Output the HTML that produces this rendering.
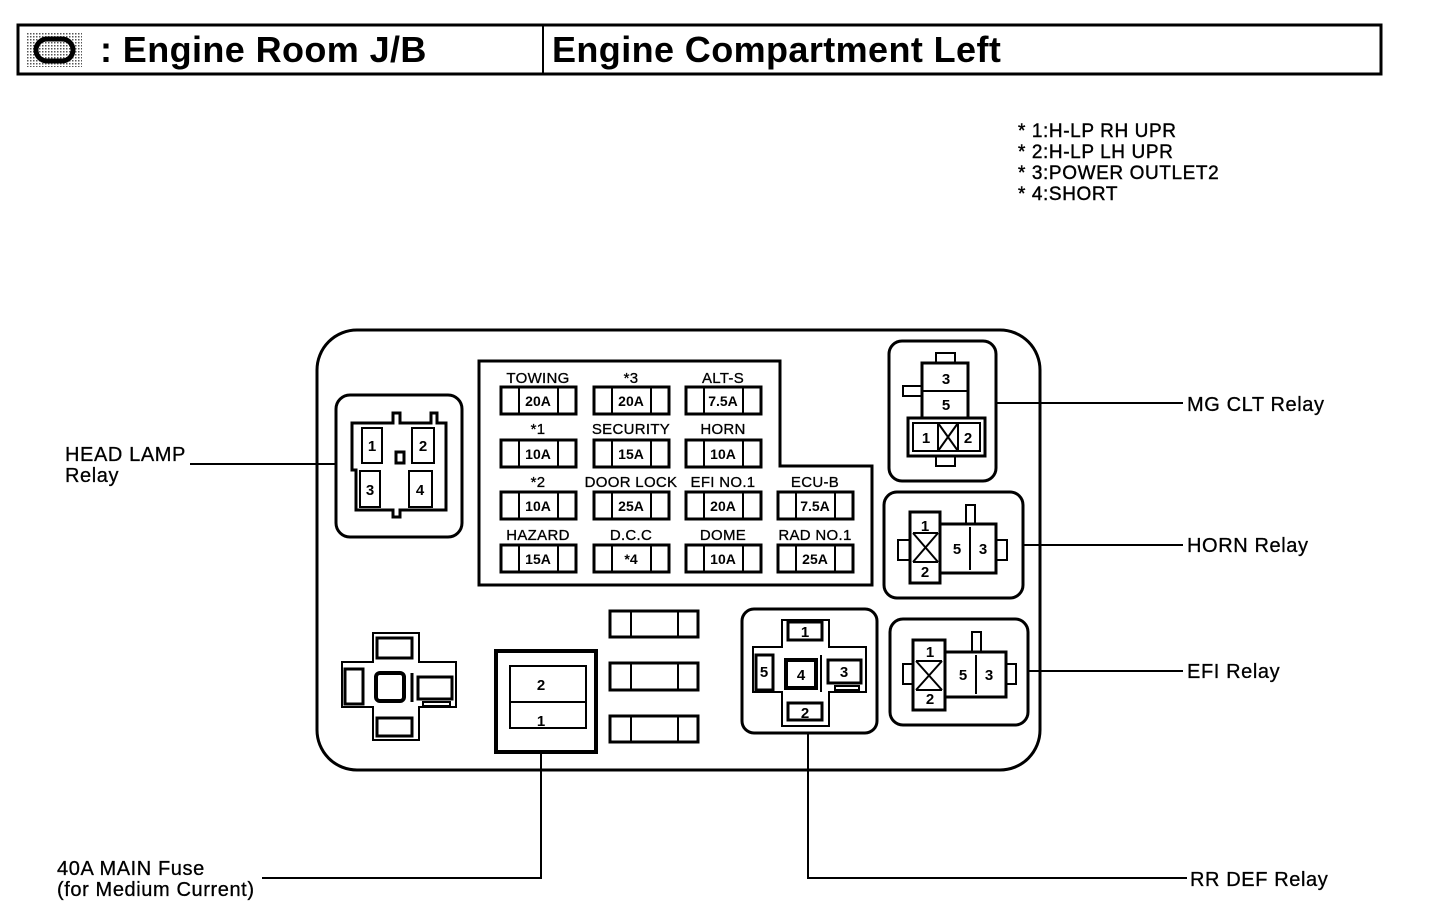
<!DOCTYPE html>
<html><head><meta charset="utf-8"><style>
body{margin:0;background:#fff;}
svg{display:block;font-family:"Liberation Sans",Arial,sans-serif;}
</style></head><body>
<svg width="1440" height="924" viewBox="0 0 1440 924" xmlns="http://www.w3.org/2000/svg">
<defs>
<pattern id="dots" width="3" height="3" patternUnits="userSpaceOnUse"><rect width="3" height="3" fill="#fff"/><rect width="1.5" height="1.5" fill="#555"/></pattern>
</defs>
<rect x="18" y="25" width="1363" height="49" fill="none" stroke="#000" stroke-width="3"/>
<line x1="543" y1="25" x2="543" y2="74" stroke="#000" stroke-width="2"/>
<rect x="27" y="32" width="55" height="35" fill="url(#dots)"/>
<rect x="36" y="39" width="37" height="22" rx="11" fill="none" stroke="#000" stroke-width="5"/>
<text x="100" y="62" font-size="36" font-weight="bold" letter-spacing="0.4">: Engine Room J/B</text>
<text x="552" y="62" font-size="36" font-weight="bold" letter-spacing="0.4">Engine Compartment Left</text>
<g font-size="19" letter-spacing="0.6" stroke="#000" stroke-width="0.4">
<text x="1018" y="137">* 1:H-LP RH UPR</text>
<text x="1018" y="158">* 2:H-LP LH UPR</text>
<text x="1018" y="179">* 3:POWER OUTLET2</text>
<text x="1018" y="200">* 4:SHORT</text>
</g>
<g fill="none" stroke="#000" stroke-width="3">
<rect x="317" y="330" width="723" height="440" rx="40"/>
<polygon points="479,361 780,361 780,466 872,466 872,585 479,585"/>
</g>
<g stroke="#000" stroke-width="3" fill="#fff">
<rect x="501" y="387" width="75" height="27"/><rect x="594" y="387" width="75" height="27"/><rect x="686" y="387" width="75" height="27"/>
<rect x="501" y="440" width="75" height="27"/><rect x="594" y="440" width="75" height="27"/><rect x="686" y="440" width="75" height="27"/>
<rect x="501" y="492" width="75" height="27"/><rect x="594" y="492" width="75" height="27"/><rect x="686" y="492" width="75" height="27"/><rect x="778" y="492" width="75" height="27"/>
<rect x="501" y="545" width="75" height="27"/><rect x="594" y="545" width="75" height="27"/><rect x="686" y="545" width="75" height="27"/><rect x="778" y="545" width="75" height="27"/>
</g>
<g stroke="#000" stroke-width="2">
<path d="M519 387v27M558 387v27M612 387v27M651 387v27M704 387v27M743 387v27
M519 440v27M558 440v27M612 440v27M651 440v27M704 440v27M743 440v27
M519 492v27M558 492v27M612 492v27M651 492v27M704 492v27M743 492v27M796 492v27M835 492v27
M519 545v27M558 545v27M612 545v27M651 545v27M704 545v27M743 545v27M796 545v27M835 545v27"/>
</g>
<g font-size="15" text-anchor="middle" letter-spacing="0.3" stroke="#000" stroke-width="0.3">
<text x="538" y="383">TOWING</text><text x="631" y="383">*3</text><text x="723" y="383">ALT-S</text>
<text x="538" y="434">*1</text><text x="631" y="434">SECURITY</text><text x="723" y="434">HORN</text>
<text x="538" y="487">*2</text><text x="631" y="487">DOOR LOCK</text><text x="723" y="487">EFI NO.1</text><text x="815" y="487">ECU-B</text>
<text x="538" y="540">HAZARD</text><text x="631" y="540">D.C.C</text><text x="723" y="540">DOME</text><text x="815" y="540">RAD NO.1</text>
</g>
<g font-size="14" text-anchor="middle" font-weight="bold">
<text x="538" y="406">20A</text><text x="631" y="406">20A</text><text x="723" y="406">7.5A</text>
<text x="538" y="459">10A</text><text x="631" y="459">15A</text><text x="723" y="459">10A</text>
<text x="538" y="511">10A</text><text x="631" y="511">25A</text><text x="723" y="511">20A</text><text x="815" y="511">7.5A</text>
<text x="538" y="564">15A</text><text x="631" y="564">*4</text><text x="723" y="564">10A</text><text x="815" y="564">25A</text>
</g>
<g fill="none" stroke="#000" stroke-width="3">
<rect x="336" y="395" width="126" height="142" rx="14"/>
<polygon points="352,423 393,423 393,413 400,413 400,423 431,423 431,413 437,413 437,423 446,423 446,510 400,510 400,517 393,517 393,510 356,510 356,470 352,470"/>
</g>
<g fill="none" stroke="#000" stroke-width="2">
<rect x="362" y="428" width="20" height="35"/><rect x="412" y="428" width="22" height="35"/>
<rect x="360" y="471" width="20" height="36"/><rect x="409" y="471" width="23" height="36"/>
<rect x="396" y="452" width="8" height="11" stroke-width="3"/>
</g>
<g font-size="15" text-anchor="middle" font-weight="bold"><text x="372" y="451">1</text><text x="423" y="451">2</text><text x="370" y="495">3</text><text x="420" y="495">4</text></g>
<g fill="none" stroke="#000" stroke-width="2">
<polygon points="373,633 419,633 419,662 456,662 456,707 419,707 419,740 373,740 373,707 342,707 342,662 373,662"/>
<rect x="377" y="638" width="35" height="20" stroke-width="3"/>
<rect x="377" y="718" width="35" height="18" stroke-width="3"/>
<rect x="345" y="669" width="18" height="35" stroke-width="3"/>
<rect x="376" y="673" width="28" height="28" rx="4" stroke-width="4"/>
<rect x="418" y="677" width="34" height="22" stroke-width="3"/>
<rect x="423" y="702" width="27" height="4"/>
<line x1="412" y1="673" x2="412" y2="702" stroke-width="3"/>
</g>
<g fill="none" stroke="#000">
<rect x="496" y="651" width="100" height="101" stroke-width="4"/>
<rect x="510" y="666" width="76" height="62" stroke-width="2"/>
<line x1="510" y1="702" x2="586" y2="702" stroke-width="2"/>
</g>
<g font-size="15" text-anchor="middle" font-weight="bold"><text x="541" y="690">2</text><text x="541" y="726">1</text></g>
<g fill="none" stroke="#000" stroke-width="3">
<rect x="610" y="611" width="88" height="26"/><rect x="610" y="663" width="88" height="27"/><rect x="610" y="716" width="88" height="26"/>
</g>
<g stroke="#000" stroke-width="2"><path d="M631 611v26M678 611v26M631 663v27M678 663v27M631 716v26M678 716v26"/></g>
<g fill="none" stroke="#000" stroke-width="3">
<rect x="742" y="609" width="135" height="124" rx="12"/>
<polygon points="782,620 829,620 829,647 866,647 866,692 829,692 829,726 782,726 782,692 753,692 753,647 782,647" stroke-width="2"/>
<rect x="788" y="622" width="34" height="18"/><rect x="788" y="703" width="34" height="17"/>
<rect x="756" y="655" width="17" height="35"/>
<rect x="786" y="660" width="30" height="28" stroke-width="4"/>
<rect x="828" y="660" width="33" height="23"/>
<rect x="835" y="686" width="24" height="4" stroke-width="2"/>
<line x1="821" y1="655" x2="821" y2="692" stroke-width="2"/>
</g>
<g font-size="15" text-anchor="middle" font-weight="bold"><text x="805" y="637">1</text><text x="805" y="718">2</text><text x="764" y="677">5</text><text x="801" y="680">4</text><text x="844" y="677">3</text></g>
<g fill="none" stroke="#000" stroke-width="3">
<rect x="889" y="341" width="107" height="140" rx="13"/>
<rect x="922" y="363" width="46" height="55"/>
<line x1="922" y1="391" x2="968" y2="391" stroke-width="2"/>
<rect x="936" y="353" width="19" height="10" stroke-width="2"/>
<rect x="903" y="386" width="19" height="10" stroke-width="2"/>
<rect x="908" y="418" width="77" height="38"/>
<rect x="913" y="423" width="67" height="28" stroke-width="2"/>
<path d="M938 423v28M958 423v28M938 423l20 28M958 423l-20 28" stroke-width="2"/>
<rect x="936" y="456" width="19" height="10" stroke-width="2"/>
</g>
<g font-size="15" text-anchor="middle" font-weight="bold"><text x="946" y="384">3</text><text x="946" y="410">5</text><text x="926" y="443">1</text><text x="968" y="443">2</text></g>
<g fill="none" stroke="#000" stroke-width="3">
<rect x="884" y="492" width="139" height="106" rx="13"/>
<rect x="910" y="512" width="30" height="71"/>
<path d="M913 533h25M913 562h25M913 533l25 29M938 533l-25 29" stroke-width="2"/>
<rect x="940" y="524" width="56" height="49"/>
<line x1="970" y1="527" x2="970" y2="570" stroke-width="2"/>
<rect x="966" y="505" width="9" height="19" stroke-width="2"/>
<rect x="898" y="540" width="12" height="20" stroke-width="2"/>
<rect x="996" y="540" width="11" height="20" stroke-width="2"/>
</g>
<g font-size="15" text-anchor="middle" font-weight="bold"><text x="925" y="531">1</text><text x="925" y="577">2</text><text x="957" y="554">5</text><text x="983" y="554">3</text></g>
<g fill="none" stroke="#000" stroke-width="3">
<rect x="890" y="619" width="138" height="106" rx="13"/>
<rect x="913" y="640" width="32" height="70"/>
<path d="M916 661h26M916 690h26M916 661l26 29M942 661l-26 29" stroke-width="2"/>
<rect x="945" y="652" width="61" height="45"/>
<line x1="976" y1="655" x2="976" y2="694" stroke-width="2"/>
<rect x="972" y="632" width="9" height="20" stroke-width="2"/>
<rect x="903" y="664" width="10" height="20" stroke-width="2"/>
<rect x="1006" y="664" width="10" height="20" stroke-width="2"/>
</g>
<g font-size="15" text-anchor="middle" font-weight="bold"><text x="930" y="657">1</text><text x="930" y="704">2</text><text x="963" y="680">5</text><text x="989" y="680">3</text></g>
<g fill="none" stroke="#000" stroke-width="2">
<path d="M190 464H336"/>
<path d="M996 403H1183"/>
<path d="M1023 545H1183"/>
<path d="M1028 671H1183"/>
<path d="M541 752V878H262"/>
<path d="M808 733V878H1187"/>
</g>
<g font-size="20" letter-spacing="0.6" stroke="#000" stroke-width="0.3">
<text x="65" y="461">HEAD LAMP</text><text x="65" y="482">Relay</text>
<text x="57" y="875">40A MAIN Fuse</text><text x="57" y="896">(for Medium Current)</text>
<text x="1187" y="411">MG CLT Relay</text>
<text x="1187" y="552">HORN Relay</text>
<text x="1187" y="678">EFI Relay</text>
<text x="1190" y="886">RR DEF Relay</text>
</g>
</svg>
</body></html>
